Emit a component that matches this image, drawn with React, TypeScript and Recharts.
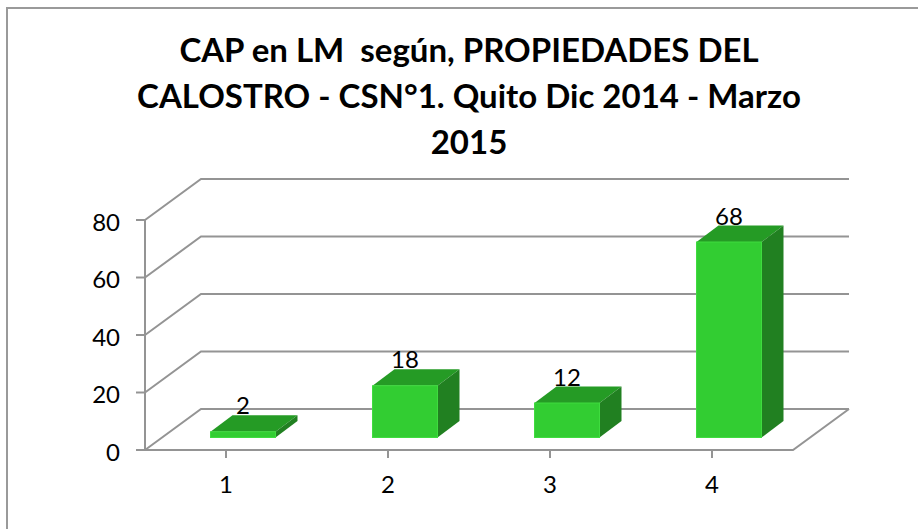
import { Bar, BarChart, CartesianGrid, LabelList, XAxis, YAxis } from "recharts"

const categories = ["1", "2", "3", "4"]
const values = [2, 18, 12, 68]
const yTicks = [0, 20, 40, 60, 80]
const titleLines = [
  "CAP en LM  según, PROPIEDADES DEL",
  "CALOSTRO - CSN°1. Quito Dic 2014 - Marzo",
  "2015",
]

const data = categories.map((name, i) => ({ name, value: values[i] }))

const GRID = "#949494"
const FONT = "Lato, 'Open Sans', sans-serif"

// fake 3D: how far the back wall sits from the front axes
const WALL_DX = 56
const WALL_DY = -41
// bars stand in the middle of the floor
const BAR_DX = 16.5
const BAR_DY = -12.5
// depth of a single bar
const DEPTH_DX = 22
const DEPTH_DY = -16.5

function WallLine(props: any) {
  const { x1, x2, y1, index } = props
  const backY = y1 + WALL_DY
  return (
    <g key={index}>
      <polyline
        points={`${x1},${y1} ${x1 + WALL_DX},${backY} ${x2 + WALL_DX},${backY}`}
        fill="none"
        stroke={GRID}
        strokeWidth={2}
      />
      {index === 0 && (
        <polyline
          points={`${x1},${y1} ${x2},${y1} ${x2 + WALL_DX},${backY}`}
          fill="none"
          stroke={GRID}
          strokeWidth={2}
        />
      )}
    </g>
  )
}

function Box(props: any) {
  const { x, y, width, height } = props
  const l = x + BAR_DX
  const r = l + width
  const t = y + BAR_DY
  const b = t + height
  return (
    <g>
      <polygon
        points={`${l},${t} ${r},${t} ${r + DEPTH_DX},${t + DEPTH_DY} ${l + DEPTH_DX},${t + DEPTH_DY}`}
        fill="#259b25"
      />
      <polygon
        points={`${r},${t} ${r + DEPTH_DX},${t + DEPTH_DY} ${r + DEPTH_DX},${b + DEPTH_DY} ${r},${b}`}
        fill="#218021"
      />
      <rect x={l} y={t} width={width} height={height} fill="#32cd32" stroke="#3fdc3f" strokeWidth={1} />
    </g>
  )
}

function BoxLabel(props: any) {
  const { x, y, width, value } = props
  return (
    <text x={x + width / 2 + BAR_DX} y={y + BAR_DY + DEPTH_DY - 1} textAnchor="middle" fontSize={24} fontFamily={FONT} fill="#000">
      {value}
    </text>
  )
}

export default function App() {
  return (
    <div style={{ position: "absolute", left: 0, top: 0, width: 918, height: 529, background: "#fff", overflow: "hidden" }}>
      <div style={{ position: "absolute", left: 6, top: 7, width: 930, height: 540, border: "2px solid #9a9a9a", boxSizing: "border-box" }} />
      <div
        style={{
          position: "absolute",
          left: 0,
          top: 26,
          width: 938,
          textAlign: "center",
          fontFamily: FONT,
          fontWeight: 700,
          fontSize: 33,
          lineHeight: "46px",
          color: "#000",
          whiteSpace: "pre",
        }}
      >
        {titleLines.map((line) => (
          <div key={line}>{line}</div>
        ))}
      </div>
      <BarChart
        width={918}
        height={529}
        data={data}
        margin={{ top: 220, right: 125, bottom: 0, left: 85 }}
        style={{ position: "absolute", left: 0, top: 0 }}
      >
        <CartesianGrid vertical={false} horizontal={WallLine} />
        <XAxis
          dataKey="name"
          interval={0}
          axisLine={{ stroke: GRID, strokeWidth: 2 }}
          tickLine={{ stroke: GRID, strokeWidth: 2 }}
          tickSize={8}
          tickMargin={18}
          height={79}
          tick={{ fontSize: 24, fontFamily: FONT, fill: "#000" }}
        />
        <YAxis
          domain={[0, 80]}
          ticks={yTicks}
          interval={0}
          width={60}
          axisLine={{ stroke: GRID, strokeWidth: 2 }}
          tickLine={{ stroke: GRID, strokeWidth: 2 }}
          tickSize={9}
          tickMargin={16}
          tick={{ fontSize: 24, fontFamily: FONT, fill: "#000", dy: 2 }}
        />
        <Bar dataKey="value" barSize={65} shape={Box} isAnimationActive={false}>
          <LabelList dataKey="value" content={BoxLabel} />
        </Bar>
      </BarChart>
    </div>
  )
}
